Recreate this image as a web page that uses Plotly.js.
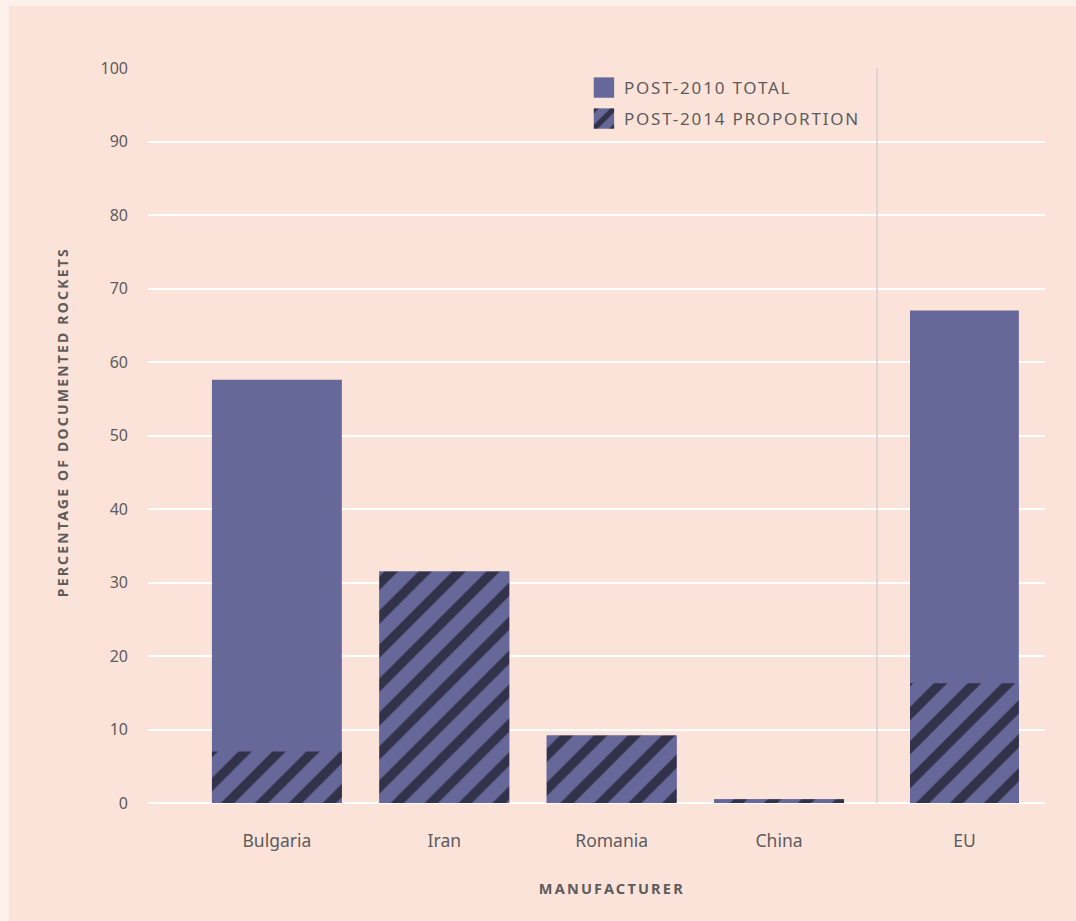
<!DOCTYPE html>
<html>
<head>
<meta charset="utf-8">
<script src="https://cdn.plot.ly/plotly-3.0.1.min.js"></script>
<style>
  html, body { margin: 0; padding: 0; background: #fdefea; width: 1076px; height: 921px; overflow: hidden; }
  #chart { position: absolute; left: 9px; top: 6px; width: 1067px; height: 915px; }
  text.legendtext { letter-spacing: 1.8px; }
</style>
</head>
<body>
<div id="chart"></div>
<script>
// ---- data ----
const manufacturers = ['Bulgaria', 'Iran', 'Romania', 'China'];
const post2010Total = [57.6, 31.5, 9.2, 0.5];
const post2014Proportion = [7.0, 31.5, 9.2, 0.5];
const euLabel = ['EU'];
const euPost2010Total = [67.0];
const euPost2014Proportion = [16.3];
const yTicks = [0, 10, 20, 30, 40, 50, 60, 70, 80, 90, 100];

// ---- styles ----
const BAR = '#67689a';
const STRIPE = '#33324b';
const TEXT = '#5c5c5c';
const FONT = 'Noto Sans, Open Sans, sans-serif';
const pattern = { shape: '/', fgcolor: STRIPE, bgcolor: BAR, size: 24, solidity: 0.4, fillmode: 'replace' };

const traces = [
  { type: 'bar', name: 'POST-2010 TOTAL', x: manufacturers, y: post2010Total, xaxis: 'x', yaxis: 'y',
    width: 0.776, marker: { color: BAR, line: { width: 0 } }, legend: 'legend', hoverinfo: 'x+y' },
  { type: 'bar', name: 'POST-2014 PROPORTION', x: manufacturers, y: post2014Proportion, xaxis: 'x', yaxis: 'y',
    width: 0.776, marker: { color: BAR, pattern: pattern, line: { width: 0 } }, legend: 'legend2', hoverinfo: 'x+y' },
  { type: 'bar', name: 'POST-2010 TOTAL', x: euLabel, y: euPost2010Total, xaxis: 'x2', yaxis: 'y',
    width: 0.65, marker: { color: BAR, line: { width: 0 } }, showlegend: false, hoverinfo: 'x+y' },
  { type: 'bar', name: 'POST-2014 PROPORTION', x: euLabel, y: euPost2014Proportion, xaxis: 'x2', yaxis: 'y',
    width: 0.65, marker: { color: BAR, pattern: pattern, line: { width: 0 } }, showlegend: false, hoverinfo: 'x+y' }
];

const split = (877 - 148) / 897;

const layout = {
  width: 1067, height: 915,
  margin: { l: 139, r: 31, t: 62, b: 118 },
  paper_bgcolor: '#fce3d9',
  plot_bgcolor: '#fce3d9',
  barmode: 'overlay',
  font: { family: FONT, color: TEXT },
  xaxis: {
    domain: [0, split], type: 'category', range: [-0.77, 3.585],
    showgrid: false, zeroline: false, showline: false, ticks: '',
    tickfont: { size: 17.5, color: TEXT }, ticklabelstandoff: 25, fixedrange: true
  },
  xaxis2: {
    domain: [split, 1], anchor: 'y', type: 'category', range: [-0.522, 0.481],
    showgrid: false, zeroline: false, showline: false, ticks: '',
    tickfont: { size: 17.5, color: TEXT }, ticklabelstandoff: 25, fixedrange: true
  },
  yaxis: {
    range: [0, 100], tickvals: yTicks, ticktext: yTicks.map(String),
    showgrid: true, gridcolor: '#ffffff', gridwidth: 2,
    zeroline: true, zerolinecolor: '#ffffff', zerolinewidth: 2,
    showline: false, ticks: '', tickfont: { size: 16, color: TEXT },
    ticklabelstandoff: 19, fixedrange: true
  },
  legend: {
    x: 0.486, y: (803 - 88) / 735, xanchor: 'left', yanchor: 'middle',
    bgcolor: 'rgba(0,0,0,0)', font: { size: 17, color: TEXT }, itemclick: false
  },
  legend2: {
    x: 0.486, y: (803 - 119) / 735, xanchor: 'left', yanchor: 'middle',
    bgcolor: 'rgba(0,0,0,0)', font: { size: 17, color: TEXT }, itemclick: false
  },
  shapes: [
    { type: 'line', xref: 'paper', yref: 'paper', x0: split, x1: split, y0: 0, y1: 1,
      line: { color: '#d6d1cf', width: 1.5 }, layer: 'above' }
  ],
  annotations: [
    { text: '<b>MANUFACTURER</b>', xref: 'paper', yref: 'paper', x: (612 - 148) / 897, y: (803 - 888) / 735,
      xanchor: 'center', yanchor: 'middle', showarrow: false, font: { size: 14.5, color: TEXT, family: FONT } },
    { text: '<b>PERCENTAGE OF DOCUMENTED ROCKETS</b>', xref: 'paper', yref: 'paper', x: (62 - 148) / 897,
      y: (803 - 422) / 735, textangle: -90, xanchor: 'center', yanchor: 'middle', showarrow: false,
      font: { size: 14, color: TEXT, family: FONT } }
  ]
};

function touchUp() {
  document.querySelectorAll('.annotation-text').forEach(function (t) { t.style.letterSpacing = '2.2px'; });
  document.querySelectorAll('.infolayer text').forEach(function (t) {
    if (/POST-20/.test(t.textContent)) t.style.letterSpacing = '1.8px';
  });
  // let the widened legend text show fully
  document.querySelectorAll('.infolayer g[class*="legend"], .infolayer g[class*="legend"] *').forEach(function (el) {
    if (el.hasAttribute && el.hasAttribute('clip-path')) el.removeAttribute('clip-path');
  });
  document.querySelectorAll('.legendpoints path').forEach(function (p) {
    if (p.dataset.scaled) return;
    var t = p.getAttribute('transform') || '';
    p.setAttribute('transform', t + ' scale(1.7)');
    p.dataset.scaled = '1';
  });
}

Plotly.newPlot('chart', traces, layout, { displayModeBar: false }).then(function () {
  touchUp();
  setTimeout(touchUp, 50);
});
</script>
</body>
</html>
